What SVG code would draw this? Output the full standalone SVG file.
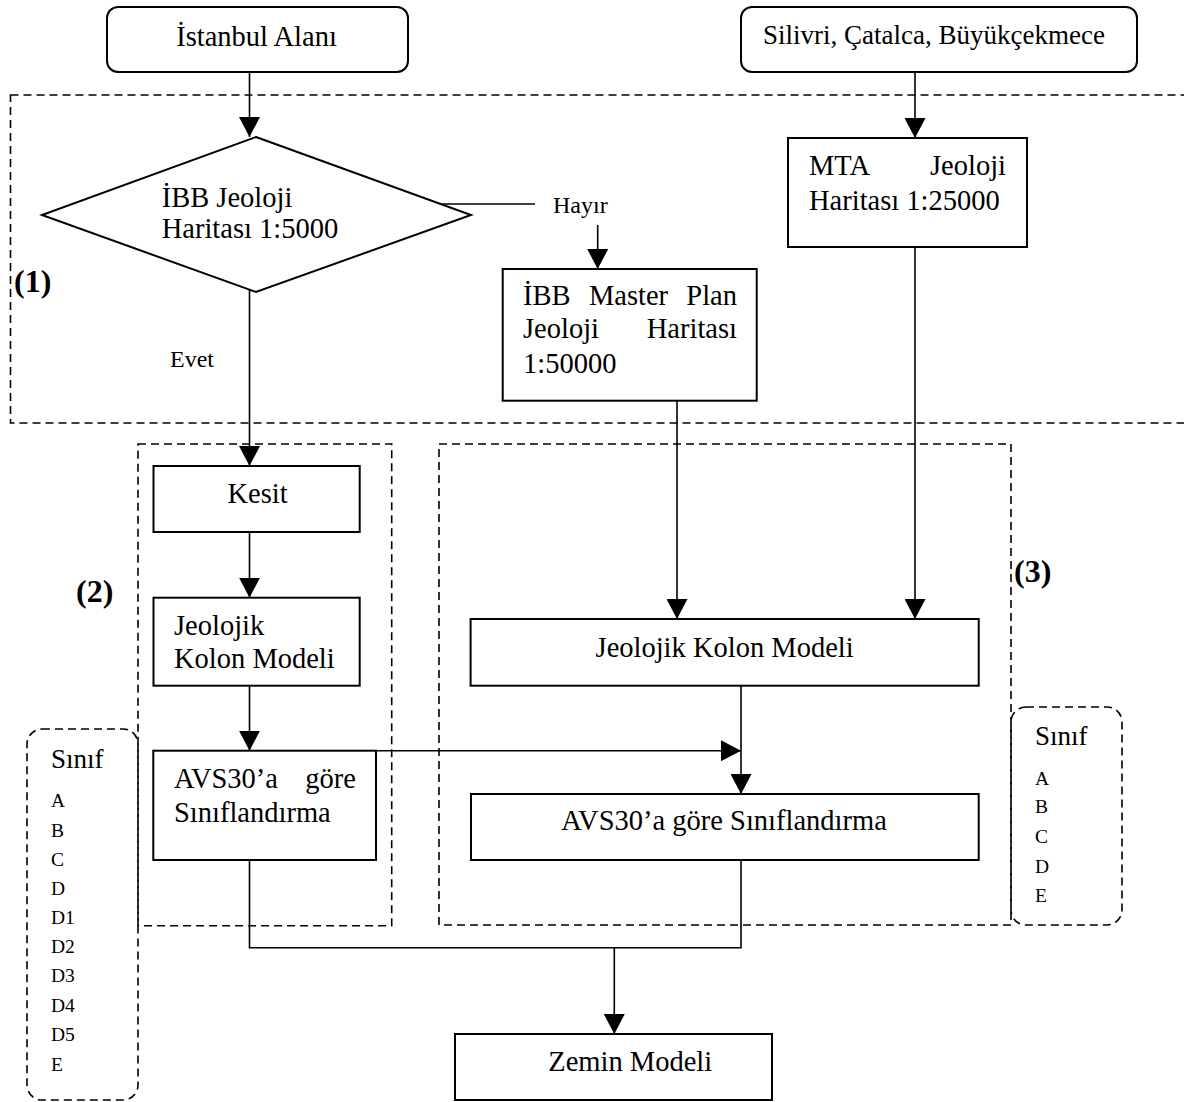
<svg xmlns="http://www.w3.org/2000/svg" width="1184" height="1102" viewBox="0 0 1184 1102">
<style>
  .box{fill:#fff;stroke:#000;stroke-width:2}
  .dash{fill:none;stroke:#000;stroke-width:1.6;stroke-dasharray:8 5}
  .conn{fill:none;stroke:#000;stroke-width:1.6}
  text{font-family:"Liberation Serif","Times New Roman",serif;fill:#000}
  .t{font-size:28.5px}
  .s{font-size:24px}
  .l{font-size:19.5px}
  .k{font-size:27px}
  .b{font-size:32px;font-weight:bold}
  .m{text-anchor:middle}
  .e{text-anchor:end}
</style>
<defs>
  <marker id="arr" markerUnits="userSpaceOnUse" markerWidth="21" markerHeight="21" refX="20" refY="10.5" orient="auto">
    <path d="M0,0 L20,10.5 L0,21 Z" fill="#000"/>
  </marker>
</defs>
<rect width="1184" height="1102" fill="#fff"/>

<g id="regions">
  <rect id="region1" class="dash" x="10.5" y="95" width="1190" height="328"/>
  <rect id="region2" class="dash" x="138" y="444" width="253.7" height="481.7"/>
  <rect id="region3" class="dash" x="439" y="444" width="572" height="481"/>
  <text class="b" x="14" y="292">(1)</text>
  <text class="b" x="76" y="602">(2)</text>
  <text class="b" x="1014" y="582">(3)</text>
</g>

<g id="connectors">
  <path class="conn" d="M249.5,72 V137" marker-end="url(#arr)"/>
  <path class="conn" d="M915,72 V138" marker-end="url(#arr)"/>
  <path class="conn" d="M440.5,204 H535"/>
  <path class="conn" d="M597.7,225 V269" marker-end="url(#arr)"/>
  <path class="conn" d="M249.5,289 V466" marker-end="url(#arr)"/>
  <path class="conn" d="M249.5,532 V597.7" marker-end="url(#arr)"/>
  <path class="conn" d="M249.5,686 V750.7" marker-end="url(#arr)"/>
  <path class="conn" d="M677,401 V619" marker-end="url(#arr)"/>
  <path class="conn" d="M915,247 V619" marker-end="url(#arr)"/>
  <path class="conn" d="M741,686 V794" marker-end="url(#arr)"/>
  <path class="conn" d="M376,750.7 H741" marker-end="url(#arr)"/>
  <path class="conn" d="M249.5,860 V947.7 H741 V860"/>
  <path class="conn" d="M614.3,947.7 V1034" marker-end="url(#arr)"/>
  <text class="s" x="553" y="213">Hayır</text>
  <text class="s" x="170" y="367">Evet</text>
</g>

<g id="istanbul">
  <rect class="box" x="107" y="7" width="301" height="65" rx="11"/>
  <text class="t m" x="256.5" y="46">İstanbul Alanı</text>
</g>
<g id="silivri">
  <rect class="box" x="741" y="7" width="396" height="65" rx="11"/>
  <text class="t m" style="font-size:27px" x="934" y="44">Silivri, Çatalca, Büyükçekmece</text>
</g>
<g id="ibb-decision">
  <polygon class="box" points="256,137 471,215 256,292 42,215"/>
  <text class="t" x="161.7" y="207.3">İBB Jeoloji</text>
  <text class="t" x="161.7" y="238.3">Haritası 1:5000</text>
</g>
<g id="mta">
  <rect class="box" x="788" y="138" width="239" height="109"/>
  <text class="t" y="175"><tspan x="809">MTA</tspan><tspan class="e" x="1006">Jeoloji</tspan></text>
  <text class="t" x="809" y="210">Haritası 1:25000</text>
</g>
<g id="ibb-master">
  <rect class="box" x="502.7" y="269" width="254" height="131.7"/>
  <text class="t" y="305"><tspan x="523">İBB</tspan><tspan x="588.9">Master</tspan><tspan class="e" x="737">Plan</tspan></text>
  <text class="t" y="338.3"><tspan x="523">Jeoloji</tspan><tspan class="e" x="737">Haritası</tspan></text>
  <text class="t" x="523" y="372.7">1:50000</text>
</g>
<g id="kesit">
  <rect class="box" x="153.5" y="466" width="206.2" height="66"/>
  <text class="t m" x="257.5" y="503">Kesit</text>
</g>
<g id="jeolojik-left">
  <rect class="box" x="153.5" y="597.7" width="206.2" height="88"/>
  <text class="t" x="174" y="635">Jeolojik</text>
  <text class="t" x="174" y="668">Kolon Modeli</text>
</g>
<g id="avs-left">
  <rect class="box" x="153.3" y="750.7" width="222.7" height="109.3"/>
  <text class="t" y="788.3"><tspan x="174">AVS30’a</tspan><tspan class="e" x="356">göre</tspan></text>
  <text class="t" x="174" y="821.7">Sınıflandırma</text>
</g>
<g id="jeolojik-right">
  <rect class="box" x="470.6" y="619" width="508.1" height="66.7"/>
  <text class="t m" x="724.6" y="656.7">Jeolojik Kolon Modeli</text>
</g>
<g id="avs-right">
  <rect class="box" x="471" y="794" width="507.7" height="66"/>
  <text class="t m" x="724" y="830">AVS30’a göre Sınıflandırma</text>
</g>
<g id="zemin">
  <rect class="box" x="455" y="1034" width="317" height="66"/>
  <text class="t" x="548.3" y="1071">Zemin Modeli</text>
</g>
<g id="sinif-left">
  <rect class="dash" x="27" y="729" width="111" height="371" rx="15"/>
  <text class="k" x="51" y="768">Sınıf</text>
  <text class="l" x="51" y="807.3">A</text>
  <text class="l" x="51" y="836.7">B</text>
  <text class="l" x="51" y="865.7">C</text>
  <text class="l" x="51" y="895">D</text>
  <text class="l" x="51" y="923.5">D1</text>
  <text class="l" x="51" y="953">D2</text>
  <text class="l" x="51" y="982">D3</text>
  <text class="l" x="51" y="1012">D4</text>
  <text class="l" x="51" y="1040.7">D5</text>
  <text class="l" x="51" y="1070.7">E</text>
</g>
<g id="sinif-right">
  <rect class="dash" x="1011" y="707" width="111" height="218" rx="15"/>
  <text class="k" x="1035" y="745">Sınıf</text>
  <text class="l" x="1035" y="785">A</text>
  <text class="l" x="1035" y="813.3">B</text>
  <text class="l" x="1035" y="843.3">C</text>
  <text class="l" x="1035" y="872.7">D</text>
  <text class="l" x="1035" y="901.7">E</text>
</g>
</svg>
